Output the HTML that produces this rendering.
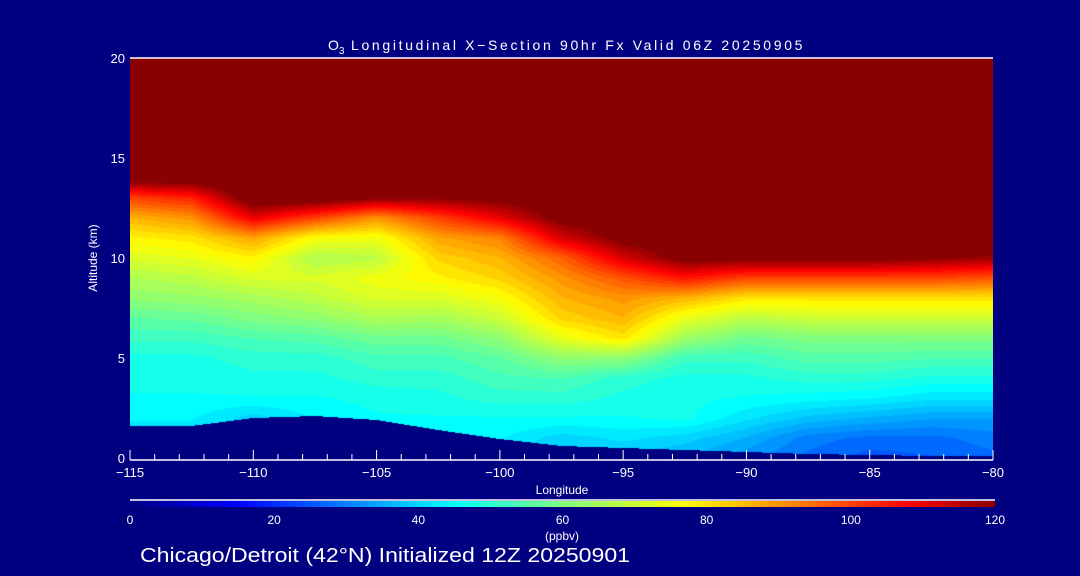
<!DOCTYPE html>
<html><head><meta charset="utf-8">
<style>
html,body{margin:0;padding:0;background:#000080;width:1080px;height:576px;overflow:hidden}
body{position:relative;font-family:"Liberation Sans","DejaVu Sans",sans-serif;color:#fff}
</style></head>
<body>
<svg id="chart" width="1080" height="576" style="position:absolute;left:0;top:0">
  <rect x="0" y="0" width="1080" height="576" fill="#000080"/>
  <foreignObject x="130" y="58" width="863" height="400">
    <canvas id="cv" width="863" height="400" xmlns="http://www.w3.org/1999/xhtml" style="display:block"></canvas>
  </foreignObject>
  <g id="axes"></g>
  <text x="328" y="50" font-size="14" fill="#fff">O<tspan font-size="10" dy="4">3</tspan><tspan dy="-4" textLength="458" lengthAdjust="spacing"> Longitudinal X−Section 90hr  Fx Valid 06Z 20250905</tspan></text>
  <text x="562" y="494" text-anchor="middle" font-size="12" fill="#fff">Longitude</text>
  <text x="97" y="258" text-anchor="middle" font-size="12" fill="#fff" transform="rotate(-90 97 258)">Altitude (km)</text>
  <defs>
    <linearGradient id="jet" x1="0" x2="1" y1="0" y2="0">
      <stop offset="0" stop-color="#000080"/><stop offset="0.125" stop-color="#0000ff"/>
      <stop offset="0.375" stop-color="#00ffff"/><stop offset="0.5" stop-color="#80ff80"/>
      <stop offset="0.64" stop-color="#ffff00"/><stop offset="0.9" stop-color="#ff0000"/>
      <stop offset="1" stop-color="#880000"/>
    </linearGradient>
  </defs>
  <line x1="130" y1="500" x2="995" y2="500" stroke="#fff" stroke-width="1.5"/>
  <rect x="130" y="501" width="865" height="6" fill="url(#jet)"/>
  <g id="cbticks"></g>
  <text x="562" y="540" text-anchor="middle" font-size="12" fill="#fff">(ppbv)</text>
  <text x="140" y="562" font-size="20" fill="#fff" textLength="490" lengthAdjust="spacingAndGlyphs">Chicago/Detroit (42°N) Initialized 12Z 20250901</text>
</svg>
<script>
const lons = [-115,-112.5,-110,-107.5,-105,-102.5,-100,-97.5,-95,-92.5,-90,-87.5,-85,-82.5,-80];
const alts = [0,1,2,3,4,5,6,7,8,9,10,11,12,13,14,20];
const surface = [1.6,1.6,2.0,2.1,1.9,1.4,0.95,0.6,0.5,0.4,0.3,0.2,0.15,0.1,0.1];
const ozone = [
 [40,42,44,46,47,48,52,56,62,66,72,78,86,100,125,130],
 [40,42,44,46,47,48,52,57,63,68,74,80,90,104,125,130],
 [38,40,40,46,48,50,54,60,65,72,78,88,110,125,126,130],
 [40,42,44,46,48,50,55,62,68,72,66,76,100,125,126,130],
 [42,44,46,47,50,53,58,66,72,75,68,75,90,120,126,130],
 [42,44,46,48,50,53,58,65,72,78,82,88,100,120,126,130],
 [40,44,46,50,53,56,62,70,76,82,86,92,110,122,126,130],
 [38,40,46,50,54,62,74,82,86,90,96,112,122,125,126,130],
 [38,42,46,48,50,62,80,86,90,98,112,122,125,125,126,130],
 [36,40,47,47,48,52,64,74,86,106,122,125,125,125,126,130],
 [32,36,42,46,48,52,58,68,80,100,122,125,125,125,126,130],
 [28,30,38,45,50,55,60,70,80,100,122,125,125,125,126,130],
 [25,28,36,44,50,55,60,70,80,100,122,125,125,125,126,130],
 [26,28,34,42,48,54,60,70,80,100,120,125,125,125,126,130],
 [28,30,34,42,48,54,60,70,80,98,118,125,125,125,126,130]
];
const xTicks = [-115,-110,-105,-100,-95,-90,-85,-80];
const yTicks = [0,5,10,15,20];
const cbTicks = [0,20,40,60,80,100,120];

const X0=130,X1=993,Y0=458,Y1=58;
const xs = lon => X0+(lon-(-115))/35*(X1-X0);
const ys = km => Y0-km/20*(Y0-Y1);
const stops=[[0,[0,0,128]],[0.125,[0,0,255]],[0.375,[0,255,255]],[0.5,[128,255,128]],[0.64,[255,255,0]],[0.9,[255,0,0]],[1,[136,0,0]]];
function col(v){
  let t=Math.max(0,Math.min(1,v/120));
  for(let i=1;i<stops.length;i++){ if(t<=stops[i][0]){const a=stops[i-1],b=stops[i],f=(t-a[0])/(b[0]-a[0]);
    return [0,1,2].map(k=>Math.round(a[1][k]+(b[1][k]-a[1][k])*f));}}
  return stops[stops.length-1][1];
}
function interp(arr,x){
  if(x<=arr[0])return [0,0,0];
  for(let i=1;i<arr.length;i++) if(x<=arr[i]) return [i-1,i,(x-arr[i-1])/(arr[i]-arr[i-1])];
  return [arr.length-2,arr.length-1,1];
}
const cv=document.getElementById('cv'),ctx=cv.getContext('2d');
const W=cv.width,H=cv.height,img=ctx.createImageData(W,H);
for(let px=0;px<W;px++){
  const lon=-115+(px+0.5)/W*35;
  const [i0,i1,fx]=interp(lons,lon);
  const sfc=surface[i0]+(surface[i1]-surface[i0])*fx;
  for(let py=0;py<H;py++){
    const km=(H-py-0.5)/H*20;
    let v;
    if(km<sfc) v=0; else {
      const [j0,j1,fy]=interp(alts,km);
      const a=ozone[i0][j0]+(ozone[i0][j1]-ozone[i0][j0])*fy;
      const b=ozone[i1][j0]+(ozone[i1][j1]-ozone[i1][j0])*fy;
      v=a+(b-a)*fx; v=Math.round(v/2.5)*2.5;
    }
    const c=col(v),o=(py*W+px)*4;
    img.data[o]=c[0];img.data[o+1]=c[1];img.data[o+2]=c[2];img.data[o+3]=255;
  }
}
ctx.putImageData(img,0,0);

const NS='http://www.w3.org/2000/svg';
const ax=document.getElementById('axes');
function mk(tag,attrs,parent){const e=document.createElementNS(NS,tag);for(const k in attrs)e.setAttribute(k,attrs[k]);parent.appendChild(e);return e;}
let e=mk('line',{x1:X0,y1:Y1,x2:X1,y2:Y1,stroke:'#fff','stroke-width':1.5},ax);


e=mk('line',{x1:X0,y1:Y0+2,x2:X1,y2:Y0+2,stroke:'#fff','stroke-width':1.5},ax);


for(let l=-115;l<=-80;l++){
  const maj=(l%5===0);
  const t=mk('line',{x1:xs(l),x2:xs(l),y1:Y0+2,y2:Y0+2-(maj?10:6),stroke:'#fff','stroke-width':1},ax);
  
  
}
xTicks.forEach(l=>{
  const t=mk('text',{x:xs(l),y:Y0+19,'text-anchor':'middle','font-size':13,fill:'#fff'},ax);
  t.textContent=String(l).replace('-','−');
  
  
});
yTicks.forEach(k=>{
  const t=mk('text',{x:X0-5,y:ys(k)+5,'text-anchor':'end','font-size':13,fill:'#fff'},ax);
  t.textContent=k;
  
  
});
const cb=document.getElementById('cbticks');
cbTicks.forEach(v=>{
  const t=mk('text',{x:130+v/120*865,y:524,'text-anchor':'middle','font-size':12,fill:'#fff'},cb);
  t.textContent=v;
  
  
});
</script>
</body></html>
